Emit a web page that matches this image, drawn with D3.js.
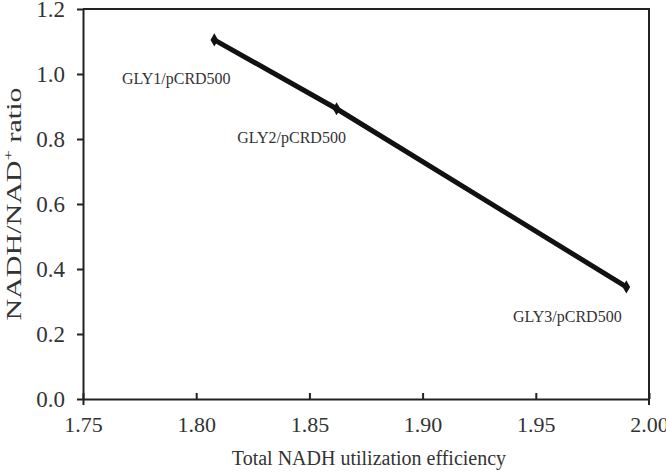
<!DOCTYPE html>
<html><head><meta charset="utf-8">
<script src="https://cdn.jsdelivr.net/npm/d3@7"></script>
<style>body{margin:0;background:#fff}svg{display:block}</style>
</head><body><svg id="c" width="666" height="474" font-family="Liberation Serif, Times New Roman, serif"></svg>
<script>
const strains = ["GLY1/pCRD500","GLY2/pCRD500","GLY3/pCRD500"];
const efficiency = [1.808, 1.862, 1.990];
const ratio = [1.105, 0.893, 0.345];
const xTicks = [1.75,1.80,1.85,1.90,1.95,2.00];
const yTicks = [0,0.2,0.4,0.6,0.8,1.0,1.2];

const FF = "Liberation Serif, Times New Roman, serif";
const svg = d3.select("#c");
const L=83,R=649,T=9,B=399;
const x = d3.scaleLinear().domain([1.75,2.0]).range([L,R]);
const y = d3.scaleLinear().domain([0,1.2]).range([B,T]);

// box top/right
svg.append("path").attr("d",`M${L},${T}H${R}V${B+6}`).attr("fill","none").attr("stroke","#222").attr("stroke-width",2);

const gx = svg.append("g").attr("transform",`translate(0,${B})`)
  .call(d3.axisBottom(x).tickValues(xTicks).tickFormat(d3.format(".2f")).tickSizeInner(-6).tickSizeOuter(0).tickPadding(17));
gx.attr("font-family",FF);
gx.selectAll("line").attr("stroke","#222").attr("stroke-width",2);
gx.select(".domain").attr("stroke","#222").attr("stroke-width",2);
gx.selectAll("text").attr("font-size",22).attr("fill","#333").attr("font-family",FF);
gx.selectAll(".tick").filter(d=>d===1.75).append("line").attr("y1",0).attr("y2",6).attr("stroke","#222").attr("stroke-width",2);

const gy = svg.append("g").attr("transform",`translate(${L},0)`)
  .call(d3.axisLeft(y).tickValues(yTicks).tickFormat(d3.format(".1f")).tickSizeInner(6).tickSizeOuter(0).tickPadding(12));
gy.attr("font-family",FF);
gy.selectAll("line").attr("stroke","#222").attr("stroke-width",2);
gy.select(".domain").attr("stroke","#222").attr("stroke-width",2);
gy.selectAll("text").attr("font-size",23).attr("fill","#333").attr("font-family",FF);

// line and markers
const pts = efficiency.map((e,i)=>[x(e),y(ratio[i])]);
svg.append("path").attr("d",d3.line()(pts)).attr("fill","none").attr("stroke","#111").attr("stroke-width",5);
svg.selectAll(".pt").data(pts).join("path").attr("class","pt")
  .attr("transform",d=>`translate(${d[0]},${d[1]})`)
  .attr("d",d3.symbol(d3.symbolDiamond,50)).attr("fill","#111");

// labels
const offs=[[-38,44],[-45,34],[-59,35]];
svg.selectAll(".lab").data(strains).join("text").attr("class","lab")
  .attr("x",(d,i)=>pts[i][0]+offs[i][0]).attr("y",(d,i)=>pts[i][1]+offs[i][1])
  .attr("text-anchor","middle").attr("font-size",16).attr("fill","#333").attr("font-family",FF).text(d=>d);

// titles
svg.append("text").attr("x",369).attr("y",465).attr("text-anchor","middle").attr("font-size",20).attr("fill","#333").attr("font-family",FF).text("Total NADH utilization efficiency");
const yt = svg.append("text").attr("transform","translate(21,204) rotate(-90)").attr("text-anchor","middle")
  .attr("font-size",21).attr("fill","#333").attr("font-family",FF)
  .attr("textLength",233).attr("lengthAdjust","spacingAndGlyphs");
yt.append("tspan").text("NADH/NAD");
yt.append("tspan").attr("dy",-8).attr("font-size",13).text("+");
yt.append("tspan").attr("dy",8).text(" ratio");
</script></body></html>
